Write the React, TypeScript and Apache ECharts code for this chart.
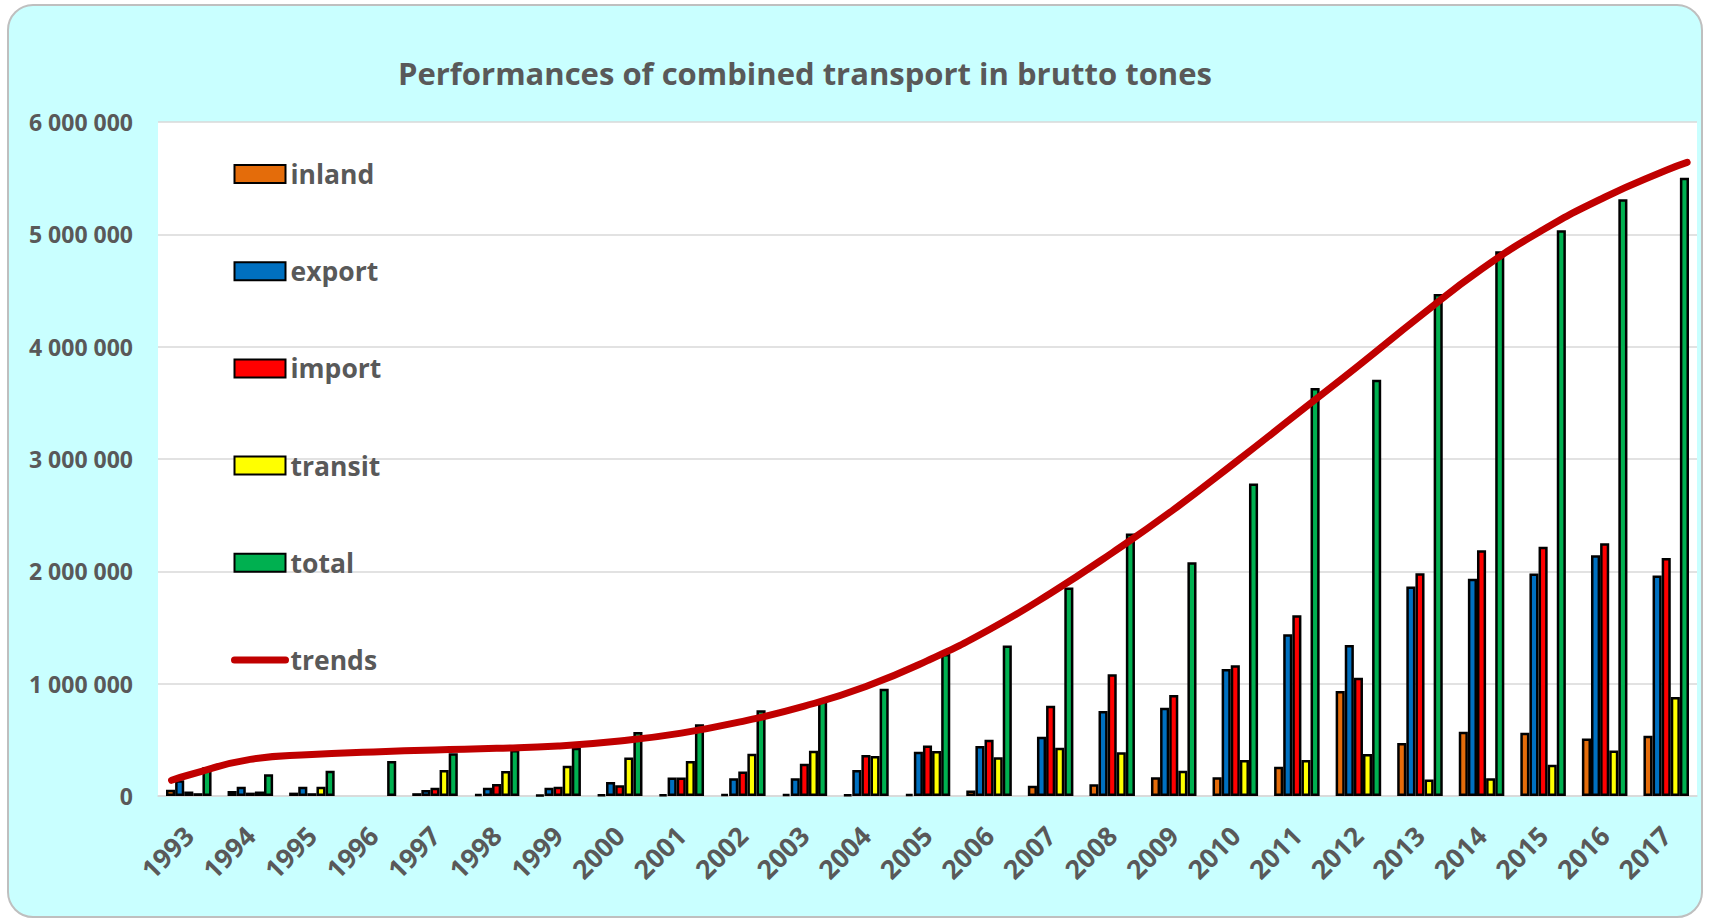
import React, { useEffect, useRef } from "react";
import * as echarts from "echarts";

const years = [
  "1993", "1994", "1995", "1996", "1997", "1998", "1999", "2000", "2001",
  "2002", "2003", "2004", "2005", "2006", "2007", "2008", "2009", "2010",
  "2011", "2012", "2013", "2014", "2015", "2016", "2017",
];

const inland = [
  55000, 45000, 30000, null, 25000, 20000, 10000, 12000, 15000, 20000, 20000,
  12000, 20000, 50000, 92000, 104000, 166000, 166000, 261000, 934000, 472000,
  571000, 563000, 512000, 536000,
];
const exportT = [
  140000, 83000, 83000, null, 53000, 74000, 74000, 125000, 164000, 157000,
  157000, 231000, 395000, 445000, 528000, 756000, 786000, 1130000, 1441000,
  1345000, 1865000, 1933000, 1980000, 2143000, 1964000,
];
const importT = [
  40000, 30000, 25000, null, 74000, 107000, 83000, 95000, 164000, 217000,
  288000, 364000, 450000, 500000, 803000, 1083000, 899000, 1165000, 1610000,
  1052000, 1984000, 2187000, 2218000, 2250000, 2119000,
];
const transit = [
  25000, 40000, 83000, null, 231000, 222000, 270000, 342000, 311000, 377000,
  402000, 355000, 400000, 345000, 430000, 389000, 225000, 320000, 320000,
  373000, 147000, 159000, 278000, 405000, 881000,
];
const total = [
  258000, 193000, 225000, 312000, 380000, 410000, 430000, 570000, 638000,
  763000, 850000, 955000, 1265000, 1340000, 1857000, 2337000, 2080000, 2782000,
  3632000, 3706000, 4468000, 4849000, 5036000, 5313000, 5504000,
];
// trend values read at each year, plus the line's start/end (in category index units)
const trend = [
  187000, 326000, 370000, 392000, 410000, 424000, 445000, 490000, 560000,
  665000, 800000, 975000, 1205000, 1480000, 1805000, 2165000, 2550000, 2970000,
  3400000, 3830000, 4270000, 4690000, 5040000, 5330000, 5570000,
];
const trendStart = [-0.28, 140000];
const trendEnd = [24.34, 5640000];

const yTicks = [0, 1000000, 2000000, 3000000, 4000000, 5000000, 6000000];

const FONT = "'Open Sans', sans-serif";
const GRAY = "#595959";

function fmt(v: number) {
  return String(v).replace(/\B(?=(\d{3})+(?!\d))/g, " ");
}

export default function App() {
  const ref = useRef<HTMLDivElement>(null);
  useEffect(() => {
    if (!ref.current) return;
    const chart = echarts.init(ref.current, undefined, { renderer: "svg" });
    const trendData = [
      trendStart,
      ...trend.map((v, i) => [i, v]),
      trendEnd,
    ];
    const barSeries = [
      { name: "inland", data: inland, color: "#E46C0A" },
      { name: "export", data: exportT, color: "#0070C0" },
      { name: "import", data: importT, color: "#FF0000" },
      { name: "transit", data: transit, color: "#FFFF00" },
      { name: "total", data: total, color: "#00B050" },
    ].map((s) => ({
      name: s.name,
      type: "bar",
      xAxisIndex: 0,
      yAxisIndex: 0,
      data: s.data,
      barGap: "0%",
      barCategoryGap: "26%",
      itemStyle: { color: s.color, borderColor: "#000000", borderWidth: 2.5 },
    }));
    chart.setOption({
      animation: false,
      backgroundColor: "#FFFFFF",
      graphic: [
        {
          type: "rect",
          z: -100,
          shape: { x: 8, y: 5, width: 1694, height: 912, r: 25 },
          style: { fill: "#C9FFFF", stroke: "#BFBFBF", lineWidth: 2 },
          silent: true,
        },
      ],
      title: {
        text: "Performances of combined transport in brutto tones",
        left: 393,
        top: 52,
        textStyle: {
          fontFamily: FONT,
          fontSize: 31,
          fontWeight: "bold",
          color: GRAY,
        },
      },
      legend: {
        orient: "vertical",
        left: 226,
        top: 154,
        itemWidth: 51,
        itemHeight: 18,
        itemGap: 67.2,
        textStyle: {
          fontFamily: FONT,
          fontSize: 26.5,
          fontWeight: "bold",
          color: GRAY,
          lineHeight: 30,
        },
        itemStyle: { borderColor: "#000000", borderWidth: 2 },
        lineStyle: { width: 7, cap: "round", color: "#C00000" },
        data: [
          { name: "inland", icon: "rect" },
          { name: "export", icon: "rect" },
          { name: "import", icon: "rect" },
          { name: "transit", icon: "rect" },
          { name: "total", icon: "rect" },
          {
            name: "trends",
            itemStyle: { opacity: 0, color: "rgba(0,0,0,0)", borderWidth: 0 },
          },
        ],
      },
      grid: {
        left: 158,
        right: 13,
        top: 122,
        bottom: 123,
        show: true,
        backgroundColor: "#FFFFFF",
        borderWidth: 0,
        containLabel: false,
      },
      xAxis: [
        {
          type: "category",
          data: years,
          axisTick: { show: false },
          axisLine: { show: true, lineStyle: { color: "#D9D9D9", width: 1.5 } },
          axisLabel: {
            interval: 0,
            rotate: 45,
            margin: 35,
            fontFamily: FONT,
            fontSize: 26.5,
            fontWeight: "bold",
            color: GRAY,
          },
        },
        {
          type: "value",
          min: -0.5,
          max: 24.5,
          show: false,
        },
      ],
      yAxis: {
        type: "value",
        min: yTicks[0],
        max: yTicks[yTicks.length - 1],
        interval: 1000000,
        axisLine: { show: false },
        axisTick: { show: false },
        splitLine: { lineStyle: { color: "#D9D9D9", width: 1.5 } },
        axisLabel: {
          margin: 25,
          fontFamily: FONT,
          fontSize: 23,
          fontWeight: "bold",
          color: GRAY,
          formatter: (v: number) => fmt(v),
        },
      },
      series: [
        ...barSeries,
        {
          name: "trends",
          type: "line",
          xAxisIndex: 1,
          yAxisIndex: 0,
          data: trendData,
          smooth: true,
          symbol: "none",
          z: 5,
          lineStyle: { color: "#C00000", width: 7, cap: "round" },
          itemStyle: { color: "#C00000" },
        },
      ],
    });
    return () => chart.dispose();
  }, []);
  return (
    <div
      ref={ref}
      style={{ position: "fixed", left: 0, top: 0, width: 1710, height: 919 }}
    />
  );
}
